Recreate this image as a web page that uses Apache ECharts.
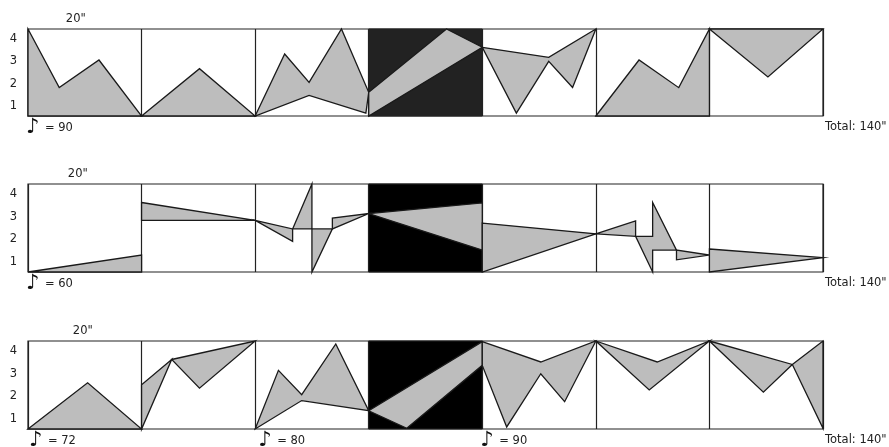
<!DOCTYPE html>
<html><head><meta charset="utf-8">
<script src="https://cdn.jsdelivr.net/npm/echarts@6/dist/echarts.min.js"></script>
<style>html,body{margin:0;padding:0;background:#fff}#c{width:889px;height:447px}</style>
</head><body><div id="c"></div>
<script>
// ---- data ----
const levelTicks = [1, 2, 3, 4];
const sectionLengthLabel = '20"';
const totalLabel = 'Total: 140"';
const darkSection = [60, 80];          // seconds (4th section)
const darkColors = ['#222222', '#000000', '#000000'];

// polygons: [seconds, level]
const row1Shapes = [
  [[0,4.45],[5.5,1.83],[12.5,3.06],[20,0.55],[0,0.55]],
  [[20,0.55],[30.2,2.67],[40,0.55]],
  [[40,0.55],[45.2,3.33],[49.5,2.06],[55.2,4.45],[60,1.61],[59.5,0.68],[49.5,1.47]],
  [[60,1.61],[73.7,4.45],[80,3.63],[60,0.55]],
  [[80,3.63],[91.7,3.18],[100,4.45],[95.9,1.83],[91.7,3.0],[86,0.68]],
  [[100,0.55],[107.6,3.06],[114.6,1.82],[120,4.45],[120,0.55]],
  [[120,4.45],[130.3,2.3],[140,4.45]]
];
const row2Shapes = [
  [[0,0.55],[20,1.3],[20,0.55]],
  [[20,3.63],[40,2.84],[20,2.84]],
  [[40,2.84],[46.6,2.46],[46.6,1.91]],
  [[46.6,2.46],[50,4.45],[50,2.46]],
  [[50,2.46],[50,0.55],[53.6,2.46]],
  [[53.6,2.46],[53.6,2.94],[60,3.14]],
  [[60,3.14],[80,3.61],[80,1.52]],
  [[80,2.72],[100,2.24],[80,0.55]],
  [[100,2.24],[107,2.81],[107,2.13]],
  [[107,2.13],[110,2.13],[110,3.63],[114.2,1.52],[110,1.52],[110,0.55]],
  [[114.2,1.52],[114.2,1.09],[120,1.3]],
  [[120,1.57],[140,1.19],[120,0.55]]
];
const row3Shapes = [
  [[0,0.55],[10.5,2.6],[20,0.55]],
  [[20,0.55],[20,2.51],[25.3,3.63]],
  [[25.3,3.63],[40,4.45],[30.2,2.36]],
  [[40,0.55],[44.1,3.15],[48.2,2.07],[54.2,4.32],[60,1.36],[48.2,1.81]],
  [[60,1.36],[80,4.42],[80,3.37],[66.7,0.58]],
  [[80,4.42],[90.3,3.52],[100,4.45],[94.5,1.76],[90.3,3.0],[84.3,0.64],[80,3.37]],
  [[100,4.45],[110.8,3.52],[120,4.45],[109.4,2.28]],
  [[120,4.45],[134.6,3.41],[129.5,2.18]],
  [[134.6,3.41],[140,4.45],[140,0.58]]
];
const rowShapes = [row1Shapes, row2Shapes, row3Shapes];

// tempo marks: [seconds, bpm]
const row1Tempo = [[0, 90]];
const row2Tempo = [[0, 60]];
const row3Tempo = [[0, 72], [40, 80], [80, 90]];
const rowTempo = [row1Tempo, row2Tempo, row3Tempo];

// ---- layout ----
const gridTops = [29, 184, 341];
const gridHeights = [87, 88, 88];
const LEFT = 28, RIGHT = 66;
const Y_MIN = 0.55, Y_MAX = 4.45;
const FONT = '"DejaVu Sans", sans-serif';

const chart = echarts.init(document.getElementById('c'), null, {renderer: 'canvas'});

const grids = [], xAxes = [], yAxes = [], series = [];
for (let r = 0; r < 3; r++) {
  grids.push({left: LEFT, right: RIGHT, top: gridTops[r], height: gridHeights[r],
    show: true, borderColor: '#222', borderWidth: 1.2, backgroundColor: '#fff'});
  xAxes.push({type: 'value', gridIndex: r, min: 0, max: 140, interval: 20,
    axisLine: {show: false}, axisTick: {show: false}, axisLabel: {show: false},
    splitLine: {show: true, lineStyle: {color: '#222', width: 1.2}}});
  yAxes.push({type: 'value', gridIndex: r, min: Y_MIN, max: Y_MAX,
    axisLine: {show: false}, axisTick: {show: false}, splitLine: {show: false},
    axisLabel: {customValues: levelTicks, margin: 11, color: '#222', fontSize: 11.5, fontFamily: FONT}});
  const dc = darkColors[r];
  series.push({type: 'custom', xAxisIndex: r, yAxisIndex: r, z: 2,
    data: [darkSection],
    renderItem: function (params, api) {
      const p0 = api.coord([api.value(0), Y_MAX]);
      const p1 = api.coord([api.value(1), Y_MIN]);
      return {type: 'rect', shape: {x: p0[0], y: p0[1], width: p1[0] - p0[0], height: p1[1] - p0[1]},
        style: {fill: dc, stroke: '#222', lineWidth: 1}};
    }});
  const shapes = rowShapes[r];
  series.push({type: 'custom', xAxisIndex: r, yAxisIndex: r, z: 3,
    data: shapes.map((s, i) => [i]),
    renderItem: function (params, api) {
      const pts = shapes[api.value(0)].map(p => api.coord(p));
      return {type: 'polygon', shape: {points: pts},
        style: {fill: '#bdbdbd', stroke: '#1a1a1a', lineWidth: 1.3, lineJoin: 'miter'}};
    }});
}

chart.setOption({animation: false, grid: grids, xAxis: xAxes, yAxis: yAxes, series: series});

// text annotations anchored to the axes
const graphics = [];
const lenLabelOffsets = [76, 78, 83];
const tempoOffsets = [[7], [7], [10, 12, 7]];
for (let r = 0; r < 3; r++) {
  const bottom = gridTops[r] + gridHeights[r];
  const sx = chart.convertToPixel({xAxisIndex: r}, 10);
  graphics.push({type: 'text', x: sx + (lenLabelOffsets[r] - 85), y: gridTops[r] - 4,
    style: {text: sectionLengthLabel, font: '11.5px ' + FONT, fill: '#222', textAlign: 'center', textVerticalAlign: 'bottom'}});
  graphics.push({type: 'text', x: 825, y: bottom + 11,
    style: {text: totalLabel, font: '11.5px ' + FONT, fill: '#222', textAlign: 'left', textVerticalAlign: 'middle'}});
  rowTempo[r].forEach(([t, bpm], k) => {
    const px = chart.convertToPixel({xAxisIndex: r}, t);
    const off = tempoOffsets[r][k];
    graphics.push({type: 'text', x: px + off - 9, y: bottom + 1,
      style: {text: '\u266A', font: '21px "DejaVu Sans"', fill: '#111', textAlign: 'left', textVerticalAlign: 'top'}});
    graphics.push({type: 'text', x: px + off + 10, y: bottom + 12,
      style: {text: '= ' + bpm, font: '11.5px ' + FONT, fill: '#222', textAlign: 'left', textVerticalAlign: 'middle'}});
  });
}
chart.setOption({graphic: graphics});
</script>
</body></html>
